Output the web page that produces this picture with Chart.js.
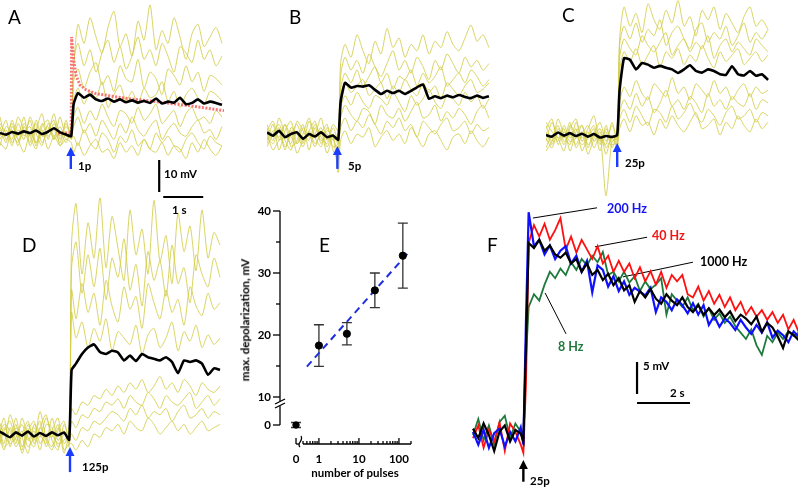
<!DOCTYPE html>
<html>
<head>
<meta charset="utf-8">
<script src="https://cdn.jsdelivr.net/npm/chart.js@4.4.0/dist/chart.umd.min.js"></script>
<style>
body{margin:0;background:#fff;}
#fig{position:relative;width:798px;height:487px;overflow:hidden;font-family:Lato,"Open Sans",sans-serif;}
#fig canvas{position:absolute;}
.t{position:absolute;white-space:nowrap;font-weight:bold;font-size:11.5px;line-height:1;color:#000;}
.p{position:absolute;white-space:nowrap;font-size:19px;line-height:1;color:#000;}
</style>
</head>
<body>
<div id="fig">
<canvas id="cA" width="224" height="205" style="left:0;top:0"></canvas>
<canvas id="cB" width="224" height="200" style="left:267px;top:0"></canvas>
<canvas id="cC" width="224" height="200" style="left:546px;top:0"></canvas>
<canvas id="cD" width="226" height="289" style="left:-2px;top:198px"></canvas>
<canvas id="cE" width="190" height="292" style="left:230px;top:195px"></canvas>
<canvas id="cF" width="333" height="292" style="left:465px;top:195px"></canvas>

<div class="p" style="left:8px;top:7px">A</div>
<div class="p" style="left:289px;top:7px">B</div>
<div class="p" style="left:562px;top:5px">C</div>
<div class="p" style="left:22px;top:235px">D</div>
<div class="p" style="left:319px;top:235px">E</div>
<div class="p" style="left:487px;top:235px">F</div>

<div class="t" style="left:78px;top:160px">1p</div>
<div class="t" style="left:348px;top:160px">5p</div>
<div class="t" style="left:625px;top:157px">25p</div>
<div class="t" style="left:82px;top:461px">125p</div>
<div class="t" style="left:530px;top:475px">25p</div>
<div class="t" style="left:164px;top:168px">10 mV</div>
<div class="t" style="left:172px;top:204px">1 s</div>
<div class="t" style="left:643px;top:360px">5 mV</div>
<div class="t" style="left:670px;top:387px">2 s</div>
<div class="t" style="left:607px;top:203px;font-size:12.5px;color:#1414f0">200 Hz</div>
<div class="t" style="left:652px;top:230px;font-size:12.5px;color:#f01414">40 Hz</div>
<div class="t" style="left:700px;top:256px;font-size:12.5px">1000 Hz</div>
<div class="t" style="left:558px;top:341px;font-size:12.5px;color:#1e7a3c">8 Hz</div>

<div class="t" style="left:245px;top:320px;transform:translate(-50%,-50%) rotate(-90deg)">max. depolarization, mV</div>
<div class="t" style="left:355px;top:467px;transform:translateX(-50%)">number of pulses</div>
</div>

<script>
// time base (s) for panels A-D
var TA = [0,0.15,0.3,0.45,0.6,0.75,0.9,1.05,1.2,1.35,1.5,1.65,1.78,1.84,1.95,2.1,2.25,2.4,2.55,2.7,2.85,3.0,3.15,3.3,3.45,3.6,3.75,3.9,4.05,4.2,4.35,4.5,4.65,4.8,4.95,5.1,5.25,5.4,5.55];

// panel A, 1 pulse (mV from baseline)
var A_mean = [0,-0.5,0.3,-0.2,0.5,0,0.8,-0.3,0.4,1.5,0.2,-0.5,-1, 9,12.5,11,12,10.5,10,10.8,9.8,10.5,9.6,10.2,9.5,10,9.4,10.8,9.2,9.8,9.5,11,9,9.4,10.5,9.2,9.8,9.4,8.8];
var A_fit_t = [1.45,1.78,1.79,1.84,1.9,2.0,2.15,2.4,2.8,3.3,3.9,4.5,5.1,5.6];
var A_fit_v = [0,0,30,23,18,15,13.5,12.3,11.5,10.6,9.8,8.9,7.9,7];
var A_trials = [
  [2,-3,4,-1,5,-4,1,6,-2,3,-1,2,0, 20,34,28,36,30,25,33,38,27,31,24,35,29,40,26,32,28,36,30,23,31,34,27,30,33,28],
  [-2,1,-4,3,-1,4,-3,0,2,-2,5,-1,1, 22,28,21,26,19,25,29,22,27,20,24,30,23,26,21,28,24,19,27,25,22,29,23,26,21,24],
  [3,0,-2,5,1,-3,4,-1,0,6,-2,3,-1, 16,20,14,19,22,15,18,13,21,17,16,23,14,19,17,12,20,18,15,21,16,19,13,18,17,15],
  [-4,2,0,-3,3,-1,-5,2,4,-2,0,-3,2, 10,14,9,13,11,16,8,12,15,10,13,9,14,11,12,16,10,13,8,12,14,11,9,13,12,10],
  [1,-1,3,-2,0,2,-4,3,-1,1,-3,4,-2, 5,8,3,7,4,9,5,2,7,6,3,8,4,6,9,3,5,7,2,6,8,4,5,3,7,5],
  [-1,4,-3,1,-2,5,0,-4,3,-1,2,-2,0, 2,5,0,3,-1,4,1,-2,3,0,5,1,-1,2,4,-2,1,3,0,-1,2,4,0,1,-2,2],
  [5,-2,1,-4,2,-1,3,-3,1,4,-4,0,-2, -1,-4,1,-3,-5,0,-2,-6,-1,-3,1,-4,-2,-5,0,-3,-1,-4,-6,-2,0,-3,-5,-1,-3,-4],
  [-3,-5,2,-2,-6,0,-3,1,-5,-1,-4,-2,-3, -6,-3,-7,-4,-2,-6,-5,-8,-3,-6,-4,-7,-2,-5,-6,-3,-7,-4,-5,-8,-3,-6,-2,-5,-7,-4]
];

// panel B, 5 pulses
var B_mean = [0.5,-0.5,1,-1,0,0.5,-1.5,0,-0.8,0.5,-1,-0.5,-1.8, 10,16,14.5,15,14.8,15.2,13.8,12.5,13.5,12.8,13.5,12.5,13.5,14.6,15.5,11,11.8,11.2,12,11.5,12.2,11.6,11.2,12,11.3,11.8];
var B_trials = [
  [-2,3,-5,1,4,-3,0,5,-1,-4,2,-2,0, 22,28,24,31,26,22,29,25,33,27,30,24,28,26,31,25,29,27,32,28,26,30,34,29,31,27],
  [3,-1,2,-4,0,3,-2,1,4,-3,1,-1,-6, 18,24,20,23,19,25,21,18,22,26,20,23,19,24,21,17,23,20,25,22,19,24,21,23,20,22],
  [-4,0,3,-2,-5,1,-3,4,-1,2,-4,0,-3, 14,19,16,20,15,18,21,16,19,14,18,17,20,15,19,16,18,21,15,17,19,16,20,18,15,17],
  [1,4,-2,3,-1,-3,2,-1,0,5,-2,3,1, 12,16,13,15,17,12,14,16,11,15,13,17,14,12,16,13,15,11,16,14,12,15,17,13,14,16],
  [-1,-3,1,-5,2,0,-4,1,-3,0,3,-5,-8, 8,12,9,13,10,8,12,11,9,13,10,7,12,9,11,14,10,8,12,11,9,13,10,12,8,11],
  [2,-2,5,0,-3,4,1,-2,3,-1,-3,2,-2, 5,9,6,4,8,7,3,9,6,5,8,4,7,10,5,6,9,4,7,5,8,6,3,7,9,5],
  [-3,1,-1,3,-4,-2,3,-5,2,-2,0,-4,-3, 2,5,1,4,2,6,3,0,4,2,5,1,3,-1,4,2,0,3,5,1,2,4,0,3,1,2],
  [0,-5,-2,-1,1,-6,-2,0,-4,1,-6,-1,-12, -2,1,-3,0,-1,2,-4,-1,1,-2,0,-3,2,-1,-4,0,1,-2,-5,-1,0,-3,1,-2,-4,-1]
];

// panel C, 25 pulses
var C_mean = [0,-0.5,0.8,-0.2,0.6,-0.3,0.4,-0.5,0.3,-0.8,-0.3,-0.6,0, 14,24,23.5,20.5,22.5,22,21,21.6,21,20.5,19.4,20.5,21.8,20,19.5,20.5,20,19,18.8,21.5,19,18.6,20,18.5,19,17.2];
var C_trials = [
  [3,-2,5,0,-3,4,-1,2,6,-2,1,-4,2, 30,40,34,38,32,41,36,33,39,35,42,34,37,31,39,36,40,33,38,35,32,37,40,34,36,33],
  [-2,4,-1,2,-5,1,3,-3,0,4,-2,3,-1, 28,34,30,35,29,33,31,36,28,32,34,30,27,33,35,29,32,30,34,28,31,35,29,32,30,33],
  [1,-3,2,-1,4,-4,0,3,-2,1,-6,0,-3, 24,30,27,25,31,28,26,29,32,25,28,30,26,29,27,31,24,28,30,26,29,27,25,30,28,26],
  [-4,0,-2,3,-1,2,-5,0,3,-3,2,-2,1, 20,26,23,27,22,25,28,21,26,24,27,22,25,23,28,24,21,26,23,25,27,22,24,26,23,25],
  [2,5,-3,1,-2,-1,3,-4,1,-1,-3,4,-2, 10,15,12,17,13,11,16,14,12,18,13,15,11,16,14,12,17,13,15,11,14,16,12,15,13,14],
  [-1,-4,1,-3,2,5,-2,1,-4,0,-19,-2,-1, 7,11,8,13,9,12,7,10,14,9,11,8,12,10,7,13,9,11,8,12,10,9,13,8,11,10],
  [4,1,-1,-5,3,0,-3,-1,2,-5,3,-3,-2, 5,8,4,9,6,3,8,7,4,9,5,7,10,6,4,8,6,3,7,9,5,6,8,4,7,6],
  [-5,-2,3,-2,0,-3,1,-6,-1,2,-4,-1,-4, 2,5,1,6,3,4,0,5,2,6,3,1,4,7,2,3,5,0,4,2,6,3,1,5,2,4]
];

// panel D, 125 pulses
var D_mean = [1,0,-1,0.5,-0.5,0.8,-0.8,0.3,-0.6,0.5,-0.4,0.5,-1.8, 20,22,25,27,28,25.6,25,26,25.5,23,24.5,22.8,25,24,23.5,23,24,22.5,19,23,22.5,23,22,18.5,20.5,20];
var D_trials = [
  [4,-3,6,0,-5,3,-2,7,-1,-4,2,-3,1, 60,72,50,66,55,74,52,68,58,48,70,56,64,50,73,54,62,47,69,57,65,51,70,55,63,59],
  [-2,5,-4,2,-1,-6,3,0,-3,5,-2,1,-4, 52,60,44,56,46,58,42,55,49,61,45,53,40,57,48,54,43,59,47,52,41,56,50,46,55,49],
  [1,-5,2,-3,5,-1,-4,2,6,-2,-5,3,-1, 45,36,47,38,44,34,48,40,35,46,39,43,33,47,41,36,45,38,42,34,46,40,37,44,39,41],
  [-3,2,-1,5,-4,1,4,-3,0,-1,3,-6,2, 38,30,35,27,33,29,36,26,32,30,28,34,25,31,33,27,30,35,26,32,29,34,27,31,28,30],
  [5,0,-3,-1,3,-2,1,-5,3,2,-4,0,-2, 8,6,10,9,12,11,14,12,15,13,16,14,17,13,15,18,14,16,13,17,15,12,16,14,13,15],
  [-1,3,1,-4,0,4,-3,2,-2,-5,1,4,-3, 4,2,6,5,8,7,10,9,11,8,12,10,9,13,11,8,12,10,9,11,13,8,10,12,9,11],
  [2,-4,-2,3,-6,0,2,-1,5,0,-3,-2,0, 0,-2,2,1,4,3,5,7,6,4,8,6,9,5,7,6,8,4,7,9,5,6,8,5,7,6],
  [-5,1,4,-2,1,-4,-1,4,-4,1,5,-5,-3, -3,-5,-2,-4,0,-1,2,1,3,0,4,2,1,5,3,0,2,4,1,3,0,2,4,1,2,3]
];

// panel E: max depolarization vs number of pulses
var E_pulses = [1,5,25,125];
var E_mean = [18.3,20.2,27.2,32.8];
var E_err = [3.35,1.8,2.8,5.25];
var E0_pulses = [0], E0_mean = [0], E0_err = [0.4];
var E_fit_x = [0.5,190], E_fit_y = [14.9,33.6];
var E_yTicks = [10,20,30,40], E_yMinor = [15,25,35];
var E_xTicks = [1,10,100];
var E_xMinor = [0.4,0.5,0.6,0.7,0.8,0.9,2,3,4,5,6,7,8,9,20,30,40,50,60,70,80,90,200];

// panel F: 25 pulses at different frequencies
var TF = [0,0.2,0.4,0.6,0.8,1.0,1.2,1.4,1.6,1.8,1.9,2.0,2.1,2.3,2.5,2.7,2.9,3.1,3.3,3.5,3.7,3.9,4.1,4.3,4.5,4.7,4.9,5.1,5.3,5.5,5.7,5.9,6.1,6.3,6.5,6.7,6.9,7.1,7.3,7.5,7.7,7.9,8.1,8.3,8.5,8.7,8.9,9.1,9.3,9.5,9.7,9.9,10.1,10.3,10.5,10.7,10.9,11.1,11.3,11.5,11.7,11.9,12.1,12.3];
var F_200Hz = [0.5,-1.5,0.8,-2,0.3,1,-1.8,0.5,-1,1.2,-1.5,18, 34.8,29.5,30.5,28.2,29.6,27.5,28.8,29.5,26.8,28,25.5,27.2,22.3,26.5,25.8,23.2,24.8,22.5,24,21.9,23,22.4,21.8,23,19.2,21.5,20.8,19.5,21.2,20.3,19,20.6,18.8,20.3,17.2,18.6,16.9,18.2,17.5,16.4,18,16.8,15.8,17.2,16,17.6,15.2,16.3,15.6,14.5,16.2,15.3];
var F_1000Hz = [1,-0.5,1.8,0,-2.5,0.5,1.5,-1,0.8,0.2,-1,14, 30,29.2,30.5,28.8,29.6,28.2,27.7,28.5,26.8,27.5,25.5,26.8,25,25.8,24.2,25.2,23.4,24.5,22.6,23.4,20.8,22.5,21.5,22.8,21.3,20.5,22,21,20.3,21.5,20,19.2,20.3,18.8,19.8,18.75,19.6,18.4,19.3,17.8,18.8,18.2,17.3,18.5,16.1,17.5,16.8,15.4,13.6,16.2,15.6,14.8];
var F_40Hz = [-0.5,1.5,-2,0.8,-1,2,-2.5,1.8,0.5,-1.5,-2.8,8, 30,32.8,31,33,30.5,32,33.9,29,31,28.5,30.5,29,27.5,29.5,26.8,28,25.5,27.2,25.5,26.8,24.5,26.2,24,25.6,23.5,25.5,23,25,24,25,22,21.5,23.2,21,22.5,20.5,21.9,20,21.5,19.5,20.8,18.8,20,18.5,19.5,18,19.2,17.5,18.8,16.5,18,16];
var F_8Hz = [0,2.5,-0.8,1.5,-1.5,2,3,-0.5,1.8,0.5,-1.2,12, 20,22,21,23.5,25.5,24.5,26,25,27,25.8,27.5,26.5,28,27,28.6,25,25.5,24,25.5,23.8,24.8,22.5,24,22.8,23.5,24.5,18.8,22,21,20,21.5,19.5,20.5,18.5,19.8,18,19,17.5,18.5,17,16,15,16.5,14,12.5,15.5,14.5,16,15,16.2,15.5,16];

// annotations in data units (s, mV)
var A_bar = {t: 3.98, v: -8.44, mv: 10, bt: 4.08, bv: -20, s: 1};
var F_bar = {t: 6.19, v: 11.4, mv: 5, bt: 6.19, bv: 5.0, s: 2};
var F_leaders = [
  [[2.26,33.9],[4.68,35.5]],
  [[4.6,29.4],[6.57,30.9]],
  [[5.66,24.7],[8.3,27.0]],
  [[2.72,22.2],[3.51,15.8]]
];

var YEL = 'rgba(210,204,70,0.85)';
Chart.defaults.font.family = 'Lato';
Chart.defaults.color = '#000';

function pts(ts, vs) { return vs.map(function(v, i){ return {x: ts[i], y: v}; }); }
function seg2(p, q, w) {
  return {data: [{x:p[0], y:p[1]}, {x:q[0], y:q[1]}], borderColor:'#000', borderWidth:w, pointRadius:0, tension:0};
}

var arrows = {
  id: 'arrows',
  afterDatasetsDraw: function(chart, args, opts) {
    var c = chart.ctx, xs = chart.scales.x, ys = chart.scales.y;
    (opts.list || []).forEach(function(a) {
      var x = xs.getPixelForValue(a.t), y0 = ys.getPixelForValue(a.from), y1 = ys.getPixelForValue(a.to);
      c.save();
      c.strokeStyle = a.color; c.fillStyle = a.color; c.lineWidth = 2.4;
      c.beginPath(); c.moveTo(x, y0); c.lineTo(x, y1 + 6); c.stroke();
      c.beginPath(); c.moveTo(x, y1); c.lineTo(x - 4.5, y1 + 9); c.lineTo(x + 4.5, y1 + 9); c.closePath(); c.fill();
      c.restore();
    });
  }
};

function tracePanel(id, xmax, ymin, ymax, mean, trials, extra, arrow) {
  var ds = [{data: pts(TA, mean), borderColor:'#000', borderWidth:2.6, pointRadius:0, tension:0.15}];
  ds = ds.concat(extra);
  trials.forEach(function(tr) {
    ds.push({data: pts(TA, tr), borderColor: YEL, borderWidth:1, pointRadius:0, tension:0.25});
  });
  return new Chart(document.getElementById(id), {
    type: 'line',
    data: {datasets: ds},
    options: {
      responsive:false, animation:false, events:[],
      layout:{padding:0},
      plugins:{legend:{display:false}, tooltip:{enabled:false}, arrows:{list:[arrow]}},
      scales:{
        x:{type:'linear', display:false, min:0, max:xmax},
        y:{type:'linear', display:false, min:ymin, max:ymax}
      }
    },
    plugins:[arrows]
  });
}

var BLUE = '#1a3cff';
tracePanel('cA', 5.6, -22.5, 41.56, A_mean, A_trials, [
  {data: pts(A_fit_t, A_fit_v), borderColor:'rgba(245,95,95,0.85)', borderWidth:3, borderDash:[2,1.5], pointRadius:0, tension:0},
  seg2([A_bar.t, A_bar.v], [A_bar.t, A_bar.v - A_bar.mv], 2.2),
  seg2([A_bar.bt, A_bar.bv], [A_bar.bt + A_bar.s, A_bar.bv], 2.2)
], {t:1.77, from:-11.25, to:-4.4, color:BLUE});
tracePanel('cB', 5.6, -20.625, 41.875, B_mean, B_trials, [], {t:1.76, from:-10.9, to:-3.75, color:BLUE});
tracePanel('cC', 5.6, -20.31, 42.19, C_mean, C_trials, [], {t:1.78, from:-10, to:-2.5, color:BLUE});
tracePanel('cD', 5.65, -16.56, 73.75, D_mean, D_trials, [], {t:1.8, from:-11.9, to:-4.06, color:BLUE});

// panel F
(function() {
  var ds = [
    {data: pts(TF, F_1000Hz), borderColor:'#000', borderWidth:2.2, pointRadius:0, tension:0},
    {data: pts(TF, F_200Hz), borderColor:'#1010ff', borderWidth:2.2, pointRadius:0, tension:0},
    {data: pts(TF, F_40Hz), borderColor:'#ff1010', borderWidth:1.8, pointRadius:0, tension:0},
    {data: pts(TF, F_8Hz), borderColor:'#1e7a3c', borderWidth:1.8, pointRadius:0, tension:0},
    seg2([F_bar.t, F_bar.v], [F_bar.t, F_bar.v - F_bar.mv], 2.2),
    seg2([F_bar.bt, F_bar.bv], [F_bar.bt + F_bar.s, F_bar.bv], 2.2)
  ];
  F_leaders.forEach(function(l) { ds.push(seg2(l[0], l[1], 1)); });
  new Chart(document.getElementById('cF'), {
    type: 'line',
    data: {datasets: ds},
    options: {
      responsive:false, animation:false, events:[],
      layout:{padding:0},
      plugins:{legend:{display:false}, tooltip:{enabled:false}, arrows:{list:[{t:1.9, from:-7.3, to:-3.9, color:'#000'}]}},
      scales:{
        x:{type:'linear', display:false, min:-0.302, max:12.264},
        y:{type:'linear', display:false, min:-8.125, max:37.5}
      }
    },
    plugins:[arrows]
  });
})();

// panel E
var errorBars = {
  id: 'errorBars',
  beforeDatasetsDraw: function(chart) {
    var c = chart.ctx;
    chart.data.datasets.forEach(function(ds, i) {
      if (!ds.errors) return;
      var meta = chart.getDatasetMeta(i), ys = chart.scales[meta.yAxisID];
      meta.data.forEach(function(pt, j) {
        var v = ds.data[j].y, e = ds.errors[j];
        var t = ys.getPixelForValue(v + e), b = ys.getPixelForValue(v - e), x = pt.x;
        c.save(); c.strokeStyle = '#333'; c.lineWidth = 1.3;
        c.beginPath();
        c.moveTo(x, t); c.lineTo(x, b);
        c.moveTo(x - 5, t); c.lineTo(x + 5, t);
        c.moveTo(x - 5, b); c.lineTo(x + 5, b);
        c.stroke(); c.restore();
      });
    });
  }
};
var eAxes = {
  id: 'eAxes',
  afterDraw: function(chart) {
    var c = chart.ctx, a = chart.chartArea, s = chart.scales;
    function seg(x1, y1, x2, y2) { c.beginPath(); c.moveTo(x1, y1); c.lineTo(x2, y2); c.stroke(); }
    c.save(); c.strokeStyle = '#000'; c.lineWidth = 1.3;
    var ax = a.left, yTop = s.y.getPixelForValue(40), yb = s.y.bottom, y0 = s.yz.getPixelForValue(0);
    seg(ax, yTop, ax, yb - 3); seg(ax, yb + 2, ax, y0);
    E_yTicks.forEach(function(v) { var p = s.y.getPixelForValue(v); seg(ax - 7, p, ax, p); });
    E_yMinor.forEach(function(v) { var p = s.y.getPixelForValue(v); seg(ax - 4, p, ax, p); });
    seg(ax - 7, y0, ax, y0);
    seg(ax - 5, yb, ax + 5, yb - 5); seg(ax - 5, yb + 4, ax + 5, yb - 1);
    var xb = a.bottom + 19, x0 = s.xz.getPixelForValue(0), xs = s.x.left, xe = s.x.right;
    seg(x0, xb, xs - 4, xb); seg(xs, xb, xe, xb);
    seg(x0, xb, x0, xb - 6);
    E_xTicks.forEach(function(v) { var p = s.x.getPixelForValue(v); seg(p, xb, p, xb - 6); });
    E_xMinor.forEach(function(v) { var p = s.x.getPixelForValue(v); seg(p, xb, p, xb - 3); });
    c.beginPath(); c.moveTo(xs - 3, xb + 3); c.bezierCurveTo(xs - 7, xb - 1, xs + 1, xb - 3, xs - 2, xb - 8); c.stroke();
    c.restore();
  }
};
var tickFont = {family:'Lato', weight:'bold', size:11.5};
function fitX(s) { s.height = 62; s.paddingLeft = 0; s.paddingRight = 0; }
function fitY(s) { s.width = 50; s.paddingTop = 0; s.paddingBottom = 0; }
function lbl(v) { return String(v); }
new Chart(document.getElementById('cE'), {
  type: 'scatter',
  data: {datasets: [
    {data: pts(E_pulses, E_mean), errors: E_err, xAxisID:'x', yAxisID:'y', pointRadius:3.6, pointBackgroundColor:'#000', pointBorderColor:'#000', clip:false},
    {data: pts(E0_pulses, E0_mean), errors: E0_err, xAxisID:'xz', yAxisID:'yz', pointRadius:3.2, pointBackgroundColor:'#000', pointBorderColor:'#000', clip:false},
    {type:'line', data: pts(E_fit_x, E_fit_y), xAxisID:'x', yAxisID:'y', borderColor:'#1f2fe0', borderWidth:2, borderDash:[7,5], pointRadius:0, clip:false}
  ]},
  options: {
    responsive:false, animation:false, events:[],
    layout:{padding:{top:16, right:9, left:0, bottom:0}},
    plugins:{legend:{display:false}, tooltip:{enabled:false}},
    scales:{
      xz:{type:'linear', position:'bottom', stack:'ex', stackWeight:23, min:-0.696, max:0.304,
          grid:{display:false, drawTicks:false}, border:{display:false},
          ticks:{font:tickFont, color:'#000', padding:27, maxRotation:0, autoSkip:false, callback:lbl},
          afterBuildTicks:function(s){ s.ticks = E0_pulses.map(function(v){return {value:v};}); }, afterFit:fitX},
      x:{type:'logarithmic', position:'bottom', stack:'ex', stackWeight:108, min:0.4, max:200,
          grid:{display:false, drawTicks:false}, border:{display:false},
          ticks:{font:tickFont, color:'#000', padding:27, maxRotation:0, autoSkip:false, callback:lbl},
          afterBuildTicks:function(s){ s.ticks = E_xTicks.map(function(v){return {value:v};}); }, afterFit:fitX},
      yz:{type:'linear', position:'left', stack:'ey', stackWeight:21, min:0, max:3.39,
          grid:{display:false, drawTicks:false}, border:{display:false},
          ticks:{font:tickFont, color:'#000', padding:9, autoSkip:false, callback:lbl},
          afterBuildTicks:function(s){ s.ticks = E0_mean.map(function(v){return {value:v};}); }, afterFit:fitY},
      y:{type:'linear', position:'left', stack:'ey', stackWeight:193, min:8.87, max:40,
          grid:{display:false, drawTicks:false}, border:{display:false},
          ticks:{font:tickFont, color:'#000', padding:9, autoSkip:false, callback:lbl},
          afterBuildTicks:function(s){ s.ticks = E_yTicks.map(function(v){return {value:v};}); }, afterFit:fitY}
    }
  },
  plugins:[errorBars, eAxes]
});
</script>
</body>
</html>
